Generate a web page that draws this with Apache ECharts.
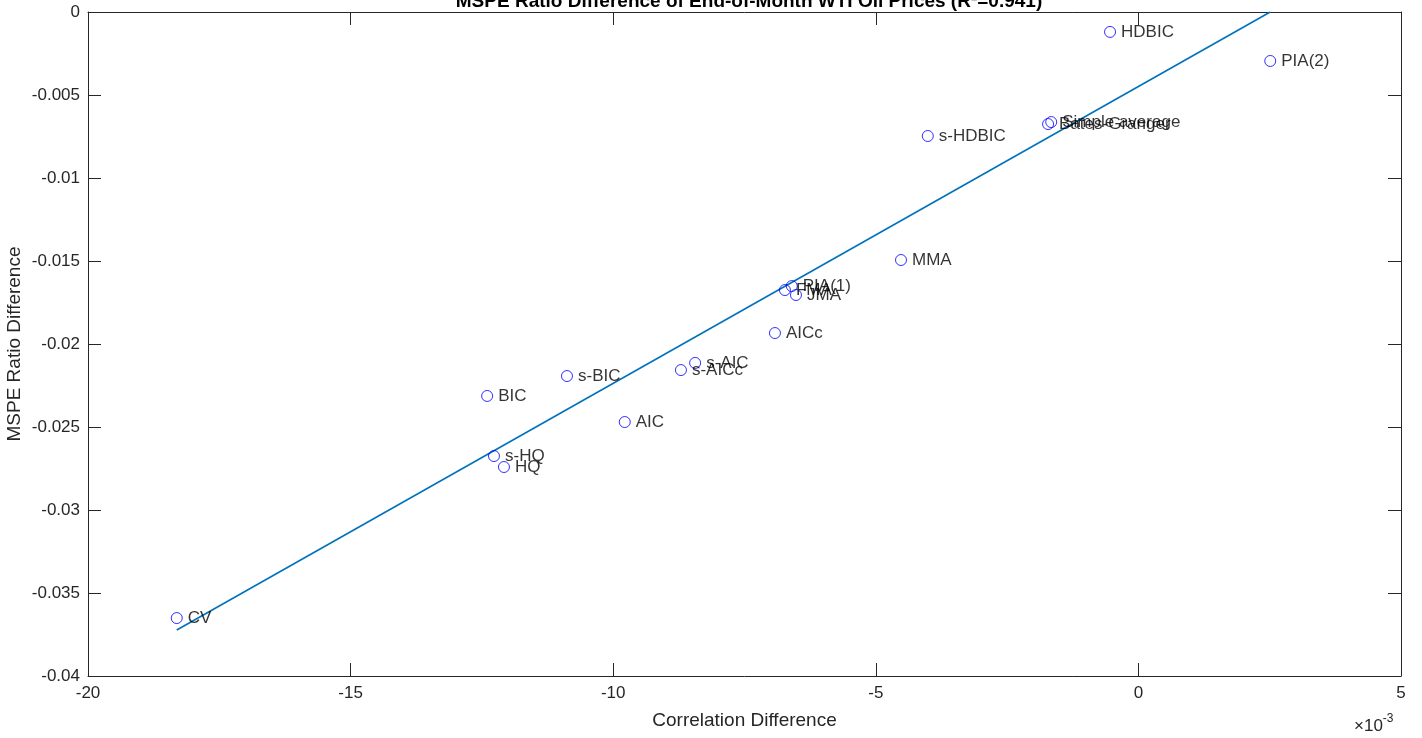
<!DOCTYPE html>
<html>
<head>
<meta charset="utf-8">
<style>
  html, body { margin: 0; padding: 0; background: #fff; }
  #chart { width: 1422px; height: 738px; }
</style>
<script src="https://cdn.jsdelivr.net/npm/echarts@6/dist/echarts.min.js"></script>
</head>
<body>
<div id="chart"></div>
<script>
// Forecast combination / selection methods
const methods = ['HDBIC', 'PIA(2)', 'Simple average', 'Bates-Granger', 's-HDBIC', 'MMA',
  'PIA(1)', 'FMA', 'JMA', 'AICc', 's-AIC', 's-AICc', 's-BIC', 'AIC', 'BIC', 's-HQ', 'HQ', 'CV'];
// Correlation difference, in units of 1e-3
const corrDiff = [-0.54, 2.51, -1.66, -1.72, -4.01, -4.52,
  -6.60, -6.73, -6.52, -6.92, -8.44, -8.71, -10.88, -9.78, -12.40, -12.27, -12.08, -18.31];
// MSPE ratio difference
const mspeDiff = [-0.00120, -0.00295, -0.00663, -0.00675, -0.00747, -0.01494,
  -0.01651, -0.01675, -0.01705, -0.01934, -0.02114, -0.02157, -0.02193, -0.02470, -0.02313, -0.02675, -0.02741, -0.03651];
// Least-squares fit line endpoints [corrDiff (1e-3), mspeDiff]
const fitLine = [[-18.31, -0.03723], [2.51, 0.0]];

const axisColor = '#262626';
const font = 'Liberation Sans, Arial, Helvetica, sans-serif';

const chart = echarts.init(document.getElementById('chart'));

const baseX = {
  type: 'value', min: -20, max: 5, interval: 5,
  axisLine: { show: true, onZero: false, lineStyle: { color: axisColor, width: 1 } },
  axisTick: { show: true, inside: true, length: 13, lineStyle: { color: axisColor } },
  splitLine: { show: false }
};
const baseY = {
  type: 'value', min: -0.04, max: 0, interval: 0.005,
  axisLine: { show: true, onZero: false, lineStyle: { color: axisColor, width: 1 } },
  axisTick: { show: true, inside: true, length: 13, lineStyle: { color: axisColor } },
  splitLine: { show: false }
};

chart.setOption({
  animation: false,
  backgroundColor: '#ffffff',
  textStyle: { fontFamily: font },
  title: {
    text: 'MSPE Ratio Difference of End-of-Month WTI Oil Prices (R\u00B2=0.941)',
    left: 744, top: -13, textAlign: 'center',
    textStyle: { fontFamily: font, fontSize: 19, fontWeight: 'bold', color: '#000' }
  },
  grid: { left: 88, right: 21, top: 12, bottom: 62, containLabel: false, outerBoundsMode: 'none' },
  xAxis: [
    Object.assign({}, baseX, {
      position: 'bottom',
      name: 'Correlation Difference', nameLocation: 'middle', nameGap: 35, nameMoveOverlap: false,
      nameTextStyle: { fontFamily: font, fontSize: 19, color: axisColor },
      axisLabel: { show: true, fontFamily: font, fontSize: 17, color: axisColor, margin: 9,
        formatter: v => String(Math.round(v)) }
    }),
    Object.assign({}, baseX, { position: 'top', axisLabel: { show: false } })
  ],
  yAxis: [
    Object.assign({}, baseY, {
      position: 'left',
      name: 'MSPE Ratio Difference', nameLocation: 'middle', nameGap: 64, nameMoveOverlap: false,
      nameTextStyle: { fontFamily: font, fontSize: 19, color: axisColor },
      axisLabel: { show: true, fontFamily: font, fontSize: 17, color: axisColor, margin: 8,
        formatter: v => {
          const s = parseFloat(v.toFixed(3)).toString();
          return s === '-0' ? '0' : s;
        } }
    }),
    Object.assign({}, baseY, { position: 'right', axisLabel: { show: false } })
  ],
  graphic: [{
    type: 'text', left: 1354, top: 713,
    style: {
      text: '{a|\u00D710}{b|-3}',
      rich: {
        a: { fontFamily: font, fontSize: 17, fill: axisColor, verticalAlign: 'bottom' },
        b: { fontFamily: font, fontSize: 12, fill: axisColor, padding: [0, 0, 10, 0] }
      }
    }
  }],
  series: [
    {
      type: 'line', xAxisIndex: 0, yAxisIndex: 0,
      data: fitLine, symbol: 'none', silent: true,
      lineStyle: { color: '#0072BD', width: 1.6 }, z: 2
    },
    {
      type: 'scatter', xAxisIndex: 0, yAxisIndex: 0,
      data: methods.map((m, i) => ({ value: [corrDiff[i], mspeDiff[i]], name: m })),
      symbol: 'circle', symbolSize: 11,
      itemStyle: { color: 'rgba(0,0,0,0)', borderColor: '#0000FF', borderWidth: 1 },
      label: {
        show: true, position: 'right', distance: 5, offset: [0, 1],
        formatter: p => p.name,
        fontFamily: font, fontSize: 17, color: '#000'
      },
      labelLayout: { hideOverlap: false },
      z: 3
    }
  ]
});
</script>
</body>
</html>
